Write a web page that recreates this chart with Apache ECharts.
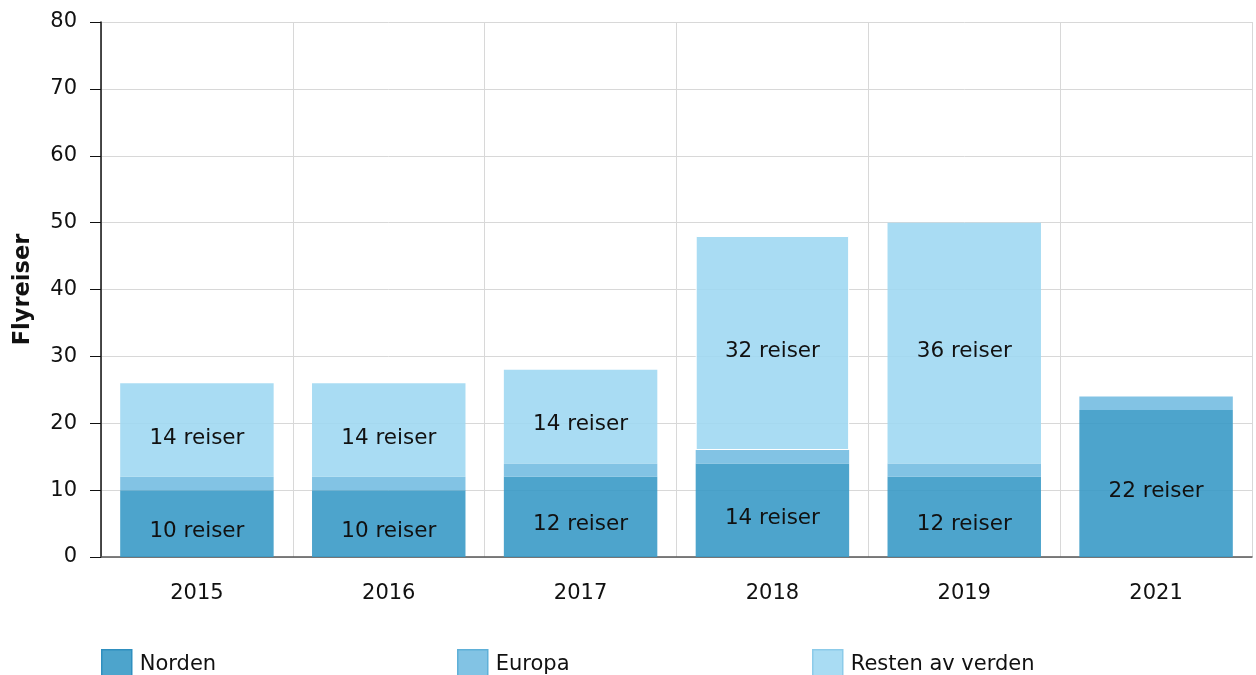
<!DOCTYPE html>
<html><head><meta charset="utf-8">
<script src="https://cdn.jsdelivr.net/npm/echarts@6/dist/echarts.min.js"></script>
<style>html,body{margin:0;padding:0;background:#fff}#c{width:1256px;height:675px}</style>
</head><body><div id="c"></div>
<script>
const years = ['2015','2016','2017','2018','2019','2021'];
const norden = [10,10,12,14,12,22];
const europa = [2,2,2,2,2,2];
const resten = [14,14,14,32,36,0];
const yTicks = [0,10,20,30,40,50,60,70,80];

const FONT = 'DejaVu Sans';
const colors = {Norden:'rgba(58,154,199,0.9)', Europa:'rgba(116,189,225,0.9)', Resten:'rgba(160,216,242,0.9)'};
const borders = {Norden:'#2f8fbf', Europa:'#5fb0d8', Resten:'#8ccbe9'};

function lbl(show){
  return {show:show, position:'inside', offset:[0,8], color:'#111', fontFamily:FONT, fontSize:21.5,
    formatter:p => p.value ? p.value + ' reiser' : ''};
}
const restenData = resten.map((v,i) => years[i] === '2018'
  ? {value:v, itemStyle:{borderColor:'#fff', borderWidth:1}} : v);

const chart = echarts.init(document.getElementById('c'));
chart.setOption({
  animation:false,
  textStyle:{fontFamily:FONT},
  grid:{left:101, right:4, top:22, bottom:118},
  xAxis:[{
    type:'category', data:years,
    axisLine:{lineStyle:{color:'#555', width:1.5}},
    axisTick:{alignWithLabel:true, length:7, lineStyle:{color:'#777'}},
    axisLabel:{color:'#111', fontSize:21, margin:26, fontFamily:FONT},
    splitLine:{show:false}
  },{
    type:'category', data:years, position:'bottom',
    axisLine:{show:false}, axisTick:{show:false}, axisLabel:{show:false},
    splitLine:{show:true, lineStyle:{color:'#d8d8d8'}}
  }],
  yAxis:{
    type:'value', min:0, max:80, interval:10,
    name:'Flyreiser', nameLocation:'middle', nameGap:66, nameRotate:90,
    nameTextStyle:{fontWeight:'bold', fontSize:22.5, color:'#111', fontFamily:FONT},
    axisLine:{show:true, lineStyle:{color:'#111', width:1.5}},
    axisTick:{show:true, length:11, lineStyle:{color:'#111'}},
    axisLabel:{color:'#111', fontSize:21, margin:24, fontFamily:FONT,
      formatter:v => yTicks.includes(v) ? String(v) : ''},
    splitLine:{lineStyle:{color:'#d8d8d8'}}
  },
  legend:[
    {name:'Norden', left:96},
    {name:'Europa', left:452},
    {name:'Resten av verden', left:807}
  ].map(l => ({
      data:[{name:l.name, itemStyle:{borderColor:borders[l.name.split(' ')[0]], borderWidth:1.5}}],
      left:l.left, top:644, itemWidth:30, itemHeight:29, icon:'rect',
      textStyle:{fontSize:21, color:'#111', fontFamily:FONT, padding:[0,0,0,3]}})),
  series:[
    {name:'Norden', type:'bar', stack:'a', data:norden, barWidth:'80%',
     itemStyle:{color:colors.Norden}, label:lbl(true)},
    {name:'Europa', type:'bar', stack:'a', data:europa, barWidth:'80%',
     itemStyle:{color:colors.Europa}, label:{show:false}},
    {name:'Resten av verden', type:'bar', stack:'a', data:restenData, barWidth:'80%',
     itemStyle:{color:colors.Resten}, label:lbl(true)}
  ]
});
</script></body></html>
